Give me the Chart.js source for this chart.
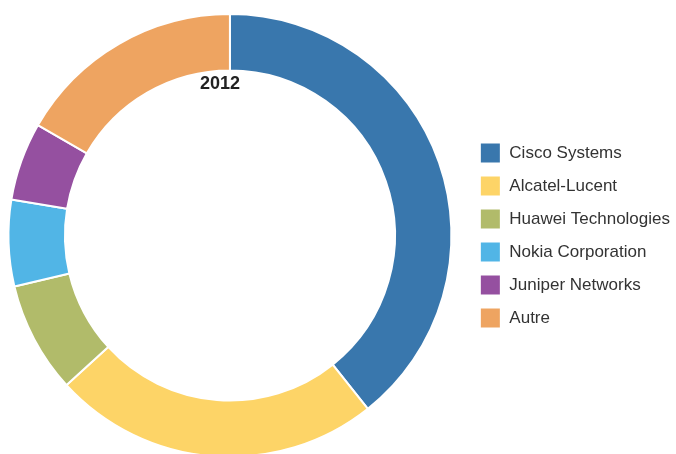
<!DOCTYPE html>
<html>
<head>
<meta charset="utf-8">
<script src="https://cdn.jsdelivr.net/npm/chart.js@4.4.0/dist/chart.umd.min.js"></script>
<style>
  html, body { margin: 0; padding: 0; background: #ffffff; overflow: hidden; }
  #wrap { width: 676px; height: 454px; overflow: hidden; position: relative; }
  canvas { display: block; position: absolute; left: -8px; top: 0; }
</style>
</head>
<body>
<div id="wrap"><canvas id="c" width="688" height="464"></canvas></div>
<script>
const categories = ["Cisco Systems", "Alcatel-Lucent", "Huawei Technologies", "Nokia Corporation", "Juniper Networks", "Autre"];
const shares2012 = [39.3, 23.9, 8.1, 6.3, 5.7, 16.7];
const colors = ["#3977AD", "#FDD467", "#B1BB6A", "#51B5E6", "#9550A0", "#EEA461"];
const centerLabel = "2012";

const labelPlugin = {
  id: 'yearLabel',
  afterDraw(chart) {
    const ctx = chart.ctx;
    const meta = chart.getDatasetMeta(0);
    const arc = meta.data[0];
    ctx.save();
    ctx.font = "bold 18px 'Liberation Sans', Arial, sans-serif";
    ctx.fillStyle = "#222222";
    ctx.textAlign = "center";
    ctx.textBaseline = "middle";
    ctx.fillText(centerLabel, arc.x - 10, arc.y - arc.innerRadius + 14);
    ctx.restore();
  }
};

new Chart(document.getElementById('c'), {
  type: 'doughnut',
  data: {
    labels: categories,
    datasets: [{
      data: shares2012,
      backgroundColor: colors,
      borderColor: "#ffffff",
      borderWidth: 2,
      hoverOffset: 0
    }]
  },
  plugins: [labelPlugin],
  options: {
    responsive: false,
    animation: false,
    cutout: '74.5%',
    layout: { padding: { left: 0, right: 0, top: 13, bottom: 6 } },
    plugins: {
      tooltip: { enabled: false },
      legend: {
        position: 'right',
        labels: {
          boxWidth: 21,
          boxHeight: 21,
          padding: 12,
          color: "#333333",
          font: { family: "'Liberation Sans', Arial, sans-serif", size: 17 }
        }
      }
    }
  }
});
</script>
</body>
</html>
